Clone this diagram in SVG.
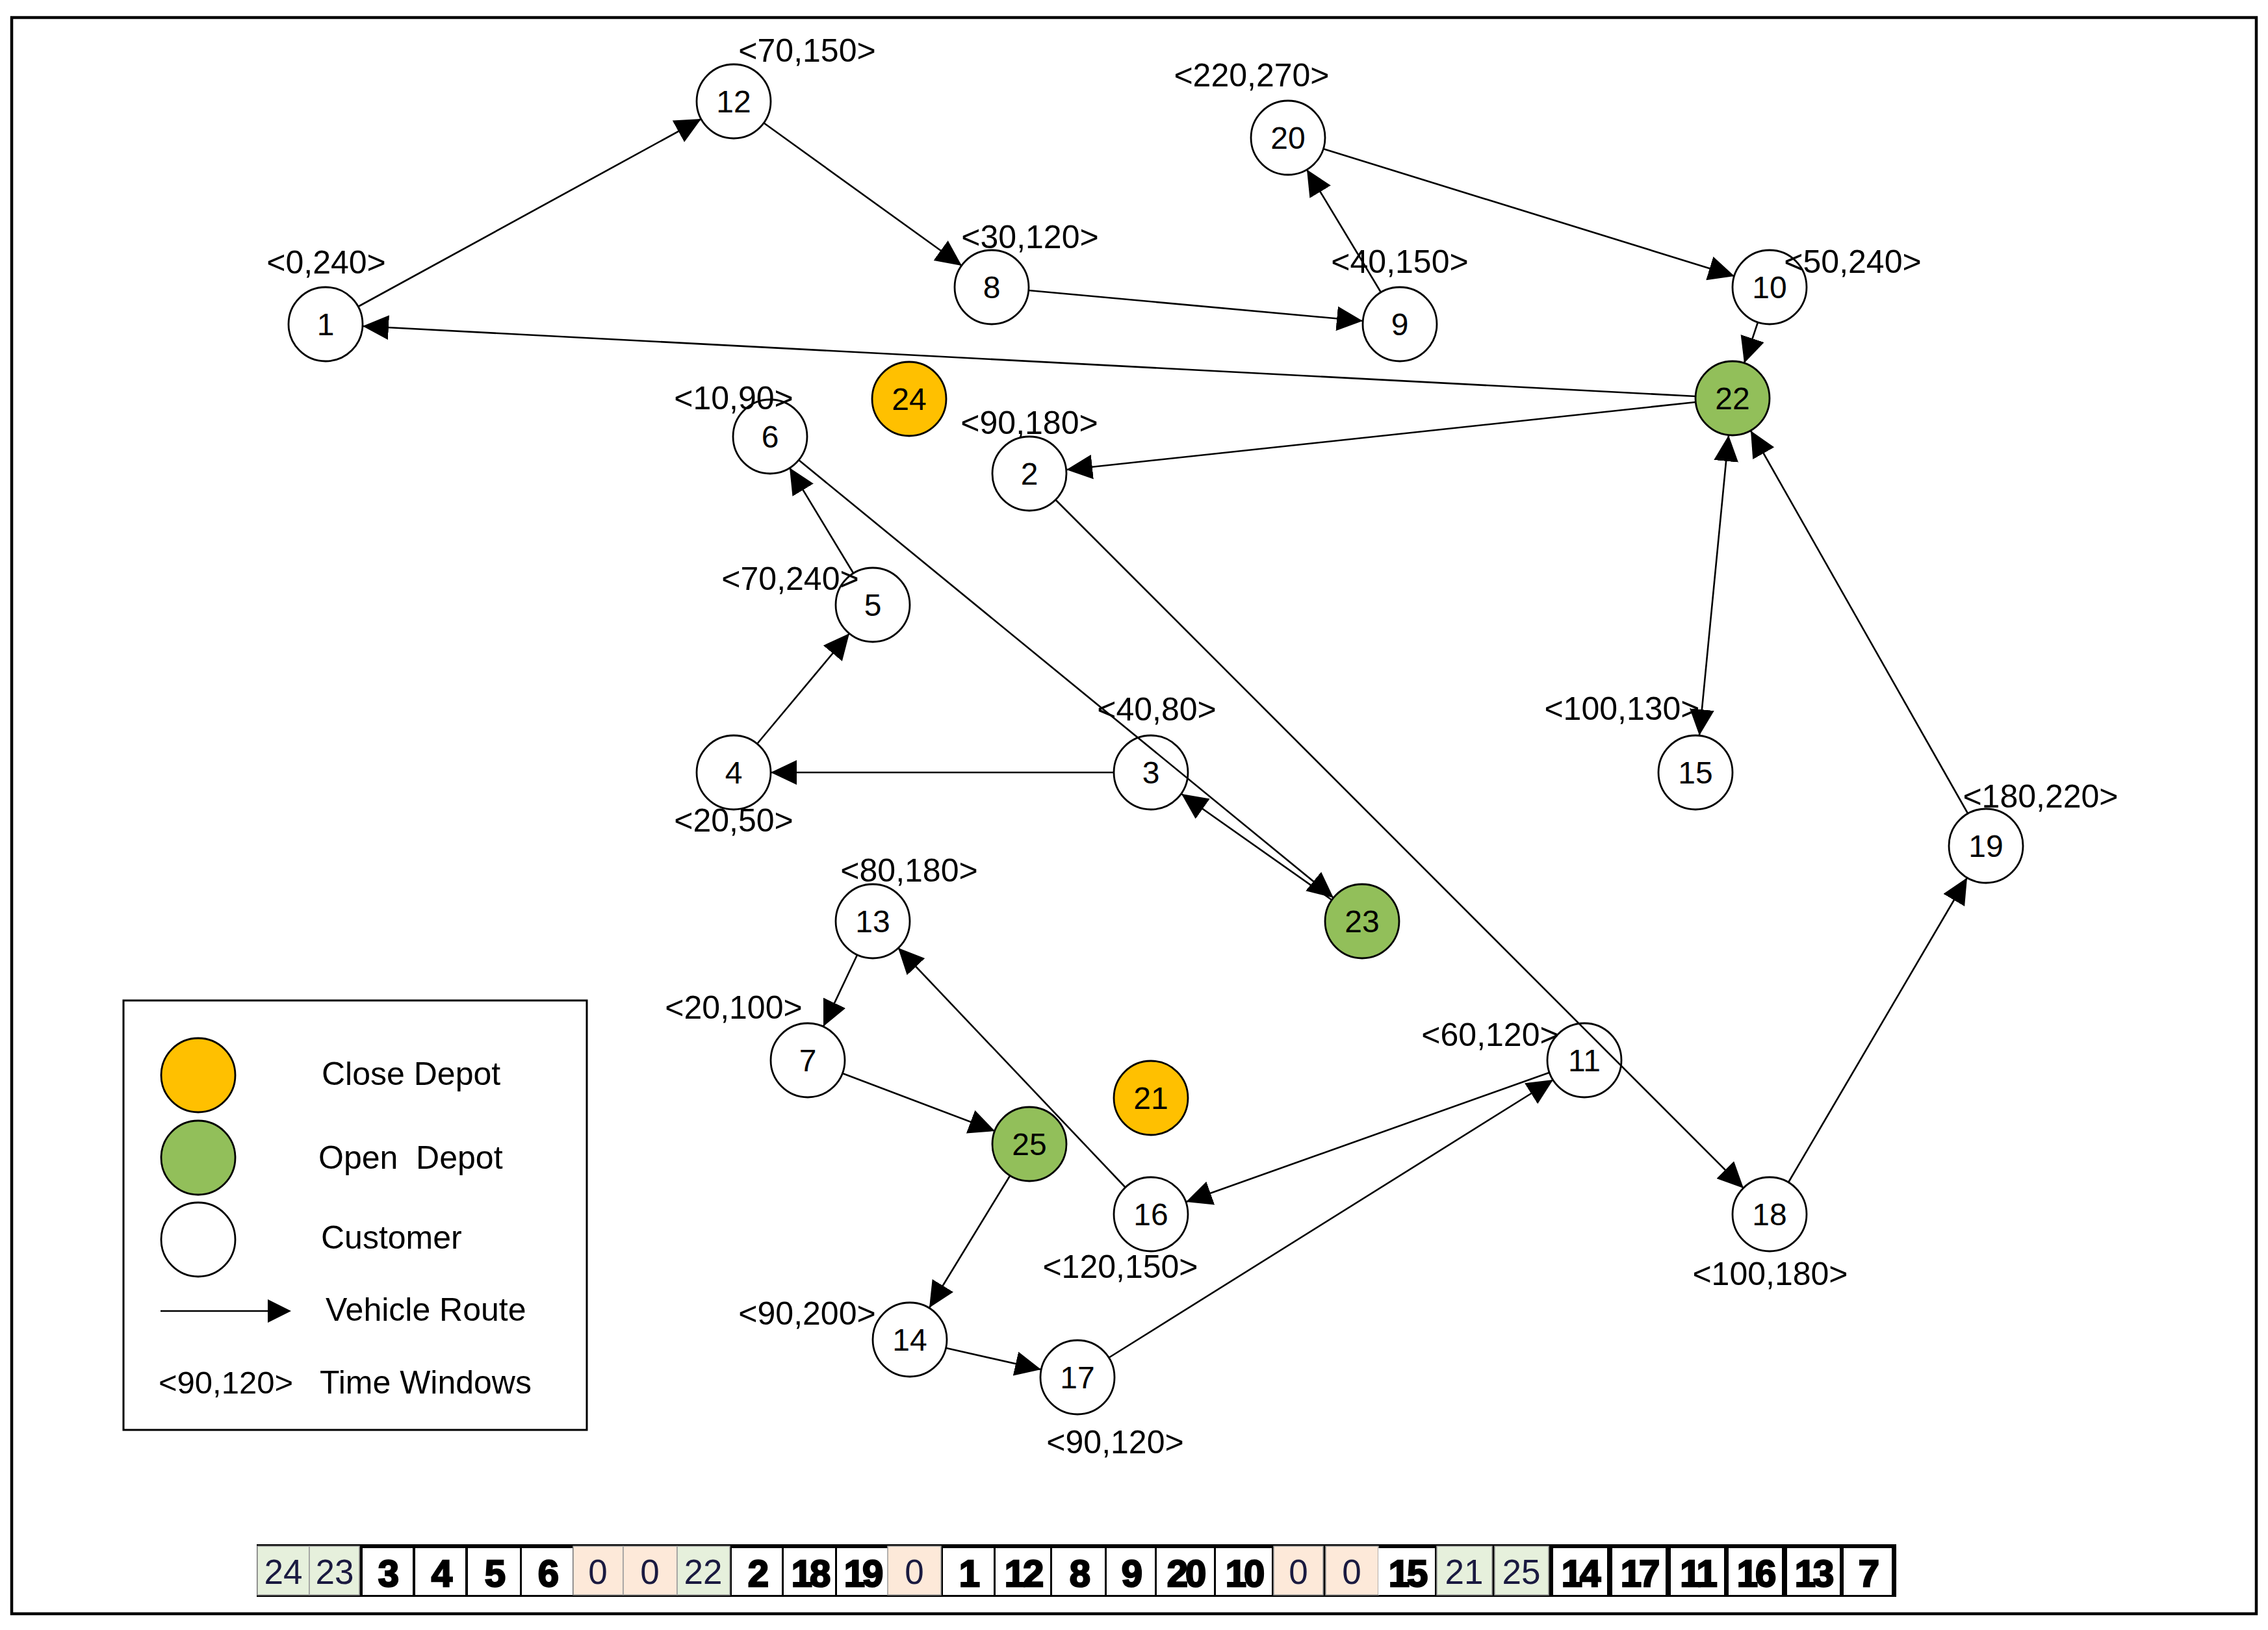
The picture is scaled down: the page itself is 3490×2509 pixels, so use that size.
<svg xmlns="http://www.w3.org/2000/svg" width="3490" height="2509" viewBox="0 0 3490 2509">
<style>
  .bg { fill: #ffffff; }
  .frame { fill: none; stroke: #000; stroke-width: 4.5; }
  .cust { fill: #ffffff; stroke: #000; stroke-width: 2.8; }
  .open { fill: #92BF5A; stroke: #000; stroke-width: 2.8; }
  .close { fill: #FFC000; stroke: #000; stroke-width: 2.8; }
  .nl { font-family: "Liberation Sans", Arial, sans-serif; font-size: 48px; text-anchor: middle; fill: #000; }
  .tw { font-family: "Liberation Sans", Arial, sans-serif; font-size: 50px; text-anchor: middle; fill: #000; }
  .edge { fill: none; stroke: #000; stroke-width: 2.6; marker-end: url(#arr); }
  .lg { font-family: "Liberation Sans", Arial, sans-serif; font-size: 50px; fill: #000; }
  .cellW { fill: #ffffff; }
  .cellG { fill: #E6F0DC; stroke: #9a9a9a; stroke-width: 1.5; }
  .cellP { fill: #FDE9D9; stroke: #9a9a9a; stroke-width: 1.5; }
  .bt { font-family: "Liberation Sans", Arial, sans-serif; font-size: 58px; font-weight: bold; text-anchor: middle; fill: #000; stroke: #000; stroke-width: 2.5; letter-spacing: -4px; }
  .ct { font-family: "Liberation Sans", Arial, sans-serif; font-size: 53px; text-anchor: middle; fill: #1a1a40; }
</style>
<defs>
  <marker id="arr" markerUnits="userSpaceOnUse" markerWidth="40" markerHeight="38" viewBox="0 0 38 36" refX="38" refY="18" orient="auto-start-reverse">
    <path d="M0,0 L38,18 L0,36 Z" fill="#000"/>
  </marker>
</defs>
<rect class="bg" x="0" y="0" width="3490" height="2509"/>
<rect class="frame" x="18" y="27" width="3454" height="2457"/>

<g id="node-1"><circle class="cust" cx="501" cy="499" r="57"/><text class="nl" x="501" y="516">1</text><text class="tw" x="502" y="421">&lt;0,240&gt;</text></g>
<g id="node-12"><circle class="cust" cx="1129" cy="156" r="57"/><text class="nl" x="1129" y="173">12</text><text class="tw" x="1242" y="95">&lt;70,150&gt;</text></g>
<g id="node-8"><circle class="cust" cx="1526" cy="442" r="57"/><text class="nl" x="1526" y="459">8</text><text class="tw" x="1585" y="382">&lt;30,120&gt;</text></g>
<g id="node-9"><circle class="cust" cx="2154" cy="499" r="57"/><text class="nl" x="2154" y="516">9</text><text class="tw" x="2154" y="420">&lt;40,150&gt;</text></g>
<g id="node-20"><circle class="cust" cx="1982" cy="212" r="57"/><text class="nl" x="1982" y="229">20</text><text class="tw" x="1926" y="133">&lt;220,270&gt;</text></g>
<g id="node-10"><circle class="cust" cx="2723" cy="442" r="57"/><text class="nl" x="2723" y="459">10</text><text class="tw" x="2851" y="420">&lt;50,240&gt;</text></g>
<g id="node-22"><circle class="open" cx="2666" cy="613" r="57"/><text class="nl" x="2666" y="630">22</text></g>
<g id="node-24"><circle class="close" cx="1399" cy="614" r="57"/><text class="nl" x="1399" y="631">24</text></g>
<g id="node-6"><circle class="cust" cx="1185" cy="672" r="57"/><text class="nl" x="1185" y="689">6</text><text class="tw" x="1129" y="630">&lt;10,90&gt;</text></g>
<g id="node-2"><circle class="cust" cx="1584" cy="729" r="57"/><text class="nl" x="1584" y="746">2</text><text class="tw" x="1584" y="668">&lt;90,180&gt;</text></g>
<g id="node-5"><circle class="cust" cx="1343" cy="931" r="57"/><text class="nl" x="1343" y="948">5</text><text class="tw" x="1216" y="908">&lt;70,240&gt;</text></g>
<g id="node-4"><circle class="cust" cx="1129" cy="1189" r="57"/><text class="nl" x="1129" y="1206">4</text><text class="tw" x="1129" y="1280">&lt;20,50&gt;</text></g>
<g id="node-3"><circle class="cust" cx="1771" cy="1189" r="57"/><text class="nl" x="1771" y="1206">3</text><text class="tw" x="1780" y="1109">&lt;40,80&gt;</text></g>
<g id="node-15"><circle class="cust" cx="2609" cy="1189" r="57"/><text class="nl" x="2609" y="1206">15</text><text class="tw" x="2496" y="1108">&lt;100,130&gt;</text></g>
<g id="node-23"><circle class="open" cx="2096" cy="1418" r="57"/><text class="nl" x="2096" y="1435">23</text></g>
<g id="node-13"><circle class="cust" cx="1343" cy="1418" r="57"/><text class="nl" x="1343" y="1435">13</text><text class="tw" x="1399" y="1357">&lt;80,180&gt;</text></g>
<g id="node-19"><circle class="cust" cx="3056" cy="1302" r="57"/><text class="nl" x="3056" y="1319">19</text><text class="tw" x="3140" y="1243">&lt;180,220&gt;</text></g>
<g id="node-7"><circle class="cust" cx="1243" cy="1632" r="57"/><text class="nl" x="1243" y="1649">7</text><text class="tw" x="1129" y="1568">&lt;20,100&gt;</text></g>
<g id="node-11"><circle class="cust" cx="2438" cy="1632" r="57"/><text class="nl" x="2438" y="1649">11</text><text class="tw" x="2293" y="1610">&lt;60,120&gt;</text></g>
<g id="node-21"><circle class="close" cx="1771" cy="1690" r="57"/><text class="nl" x="1771" y="1707">21</text></g>
<g id="node-25"><circle class="open" cx="1584" cy="1761" r="57"/><text class="nl" x="1584" y="1778">25</text></g>
<g id="node-16"><circle class="cust" cx="1771" cy="1869" r="57"/><text class="nl" x="1771" y="1886">16</text><text class="tw" x="1724" y="1967">&lt;120,150&gt;</text></g>
<g id="node-18"><circle class="cust" cx="2723" cy="1869" r="57"/><text class="nl" x="2723" y="1886">18</text><text class="tw" x="2724" y="1978">&lt;100,180&gt;</text></g>
<g id="node-14"><circle class="cust" cx="1400" cy="2062" r="57"/><text class="nl" x="1400" y="2079">14</text><text class="tw" x="1242" y="2039">&lt;90,200&gt;</text></g>
<g id="node-17"><circle class="cust" cx="1658" cy="2120" r="57"/><text class="nl" x="1658" y="2137">17</text><text class="tw" x="1716" y="2237">&lt;90,120&gt;</text></g>

<g id="connectors">
  <line class="edge" x1="551" y1="472" x2="1079" y2="183"/>
  <line class="edge" x1="1175" y1="189" x2="1480" y2="409"/>
  <line class="edge" x1="1583" y1="447" x2="2097" y2="494"/>
  <line class="edge" x1="2125" y1="450" x2="2011" y2="261"/>
  <line class="edge" x1="2036" y1="229" x2="2669" y2="425"/>
  <line class="edge" x1="2705" y1="496" x2="2684" y2="559"/>
  <line class="edge" x1="2609" y1="610" x2="558" y2="502"/>
  <line class="edge" x1="2609" y1="619" x2="1641" y2="723"/>
  <line class="edge" x1="1624" y1="769" x2="2683" y2="1829"/>
  <line class="edge" x1="2752" y1="1820" x2="3027" y2="1351"/>
  <line class="edge" x1="3028" y1="1252" x2="2694" y2="663"/>
  <line class="edge" x1="2660" y1="670" x2="2615" y2="1132" marker-start="url(#arr)"/>
  <line class="edge" x1="1229" y1="708" x2="2052" y2="1382"/>
  <line class="edge" x1="2049" y1="1385" x2="1818" y2="1222"/>
  <line class="edge" x1="1714" y1="1189" x2="1186" y2="1189"/>
  <line class="edge" x1="1165" y1="1145" x2="1307" y2="975"/>
  <line class="edge" x1="1313" y1="882" x2="1215" y2="720"/>
  <line class="edge" x1="1554" y1="1810" x2="1430" y2="2013"/>
  <line class="edge" x1="1456" y1="2075" x2="1602" y2="2108"/>
  <line class="edge" x1="1706" y1="2090" x2="2390" y2="1662"/>
  <line class="edge" x1="2384" y1="1651" x2="1825" y2="1850"/>
  <line class="edge" x1="1732" y1="1828" x2="1382" y2="1459"/>
  <line class="edge" x1="1319" y1="1470" x2="1267" y2="1580"/>
  <line class="edge" x1="1296" y1="1652" x2="1531" y2="1741"/>
</g>

<g id="legend">
  <rect x="190" y="1540" width="713" height="661" fill="#fff" stroke="#000" stroke-width="3"/>
  <circle class="close" cx="305" cy="1655" r="57"/>
  <circle class="open" cx="305" cy="1782" r="57"/>
  <circle class="cust" cx="305" cy="1908" r="57"/>
  <line x1="247" y1="2018" x2="414" y2="2018" stroke="#000" stroke-width="2.6"/>
  <path d="M412,2000 L448,2018 L412,2036 Z" fill="#000"/>
  <text class="lg" x="495" y="1670">Close Depot</text>
  <text class="lg" x="490" y="1799" xml:space="preserve">Open  Depot</text>
  <text class="lg" x="494" y="1922">Customer</text>
  <text class="lg" x="501" y="2033">Vehicle Route</text>
  <text class="lg" x="244" y="2145" style="font-size:49px">&lt;90,120&gt;</text>
  <text class="lg" x="492" y="2145">Time Windows</text>
</g>

<g id="solution-bar">
  <rect x="395" y="2377" width="2523" height="81" fill="#000"/>
  <rect class="cellG" x="396" y="2380" width="80" height="75"/><text class="ct" x="436" y="2438">24</text>
  <rect class="cellG" x="476" y="2380" width="77" height="75"/><text class="ct" x="515" y="2438">23</text>
  <rect class="cellW" x="558" y="2383" width="77" height="72"/><text class="bt" x="596" y="2442">3</text>
  <rect class="cellW" x="639" y="2383" width="77" height="72"/><text class="bt" x="678" y="2442">4</text>
  <rect class="cellW" x="720" y="2383" width="80" height="72"/><text class="bt" x="760" y="2442">5</text>
  <rect class="cellW" x="803" y="2383" width="78" height="72"/><text class="bt" x="842" y="2442">6</text>
  <rect class="cellP" x="882" y="2380" width="77" height="75"/><text class="ct" x="920" y="2438">0</text>
  <rect class="cellP" x="959" y="2380" width="83" height="75"/><text class="ct" x="1000" y="2438">0</text>
  <rect class="cellG" x="1042" y="2380" width="81" height="75"/><text class="ct" x="1082" y="2438">22</text>
  <rect class="cellW" x="1126" y="2383" width="77" height="72"/><text class="bt" x="1165" y="2442">2</text>
  <rect class="cellW" x="1206" y="2383" width="79" height="72"/><text class="bt" x="1246" y="2442">18</text>
  <rect class="cellW" x="1288" y="2383" width="78" height="72"/><text class="bt" x="1327" y="2442">19</text>
  <rect class="cellP" x="1366" y="2380" width="82" height="75"/><text class="ct" x="1407" y="2438">0</text>
  <rect class="cellW" x="1451" y="2383" width="78" height="72"/><text class="bt" x="1490" y="2442">1</text>
  <rect class="cellW" x="1532" y="2383" width="84" height="72"/><text class="bt" x="1574" y="2442">12</text>
  <rect class="cellW" x="1619" y="2383" width="81" height="72"/><text class="bt" x="1660" y="2442">8</text>
  <rect class="cellW" x="1703" y="2383" width="74" height="72"/><text class="bt" x="1740" y="2442">9</text>
  <rect class="cellW" x="1780" y="2383" width="88" height="72"/><text class="bt" x="1824" y="2442">20</text>
  <rect class="cellW" x="1871" y="2383" width="86" height="72"/><text class="bt" x="1914" y="2442">10</text>
  <rect class="cellP" x="1960" y="2380" width="76" height="75"/><text class="ct" x="1998" y="2438">0</text>
  <rect class="cellP" x="2040" y="2380" width="81" height="75"/><text class="ct" x="2080" y="2438">0</text>
  <rect class="cellW" x="2121" y="2383" width="87" height="72"/><text class="bt" x="2165" y="2442">15</text>
  <rect class="cellG" x="2211" y="2380" width="85" height="75"/><text class="ct" x="2253" y="2438">21</text>
  <rect class="cellG" x="2300" y="2380" width="83" height="75"/><text class="ct" x="2341" y="2438">25</text>
  <rect class="cellW" x="2390" y="2383" width="83" height="72"/><text class="bt" x="2431" y="2442">14</text>
  <rect class="cellW" x="2481" y="2383" width="82" height="72"/><text class="bt" x="2522" y="2442">17</text>
  <rect class="cellW" x="2571" y="2383" width="82" height="72"/><text class="bt" x="2612" y="2442">11</text>
  <rect class="cellW" x="2660" y="2383" width="82" height="72"/><text class="bt" x="2701" y="2442">16</text>
  <rect class="cellW" x="2750" y="2383" width="81" height="72"/><text class="bt" x="2790" y="2442">13</text>
  <rect class="cellW" x="2837" y="2383" width="74" height="72"/><text class="bt" x="2874" y="2442">7</text>
</g>
</svg>
